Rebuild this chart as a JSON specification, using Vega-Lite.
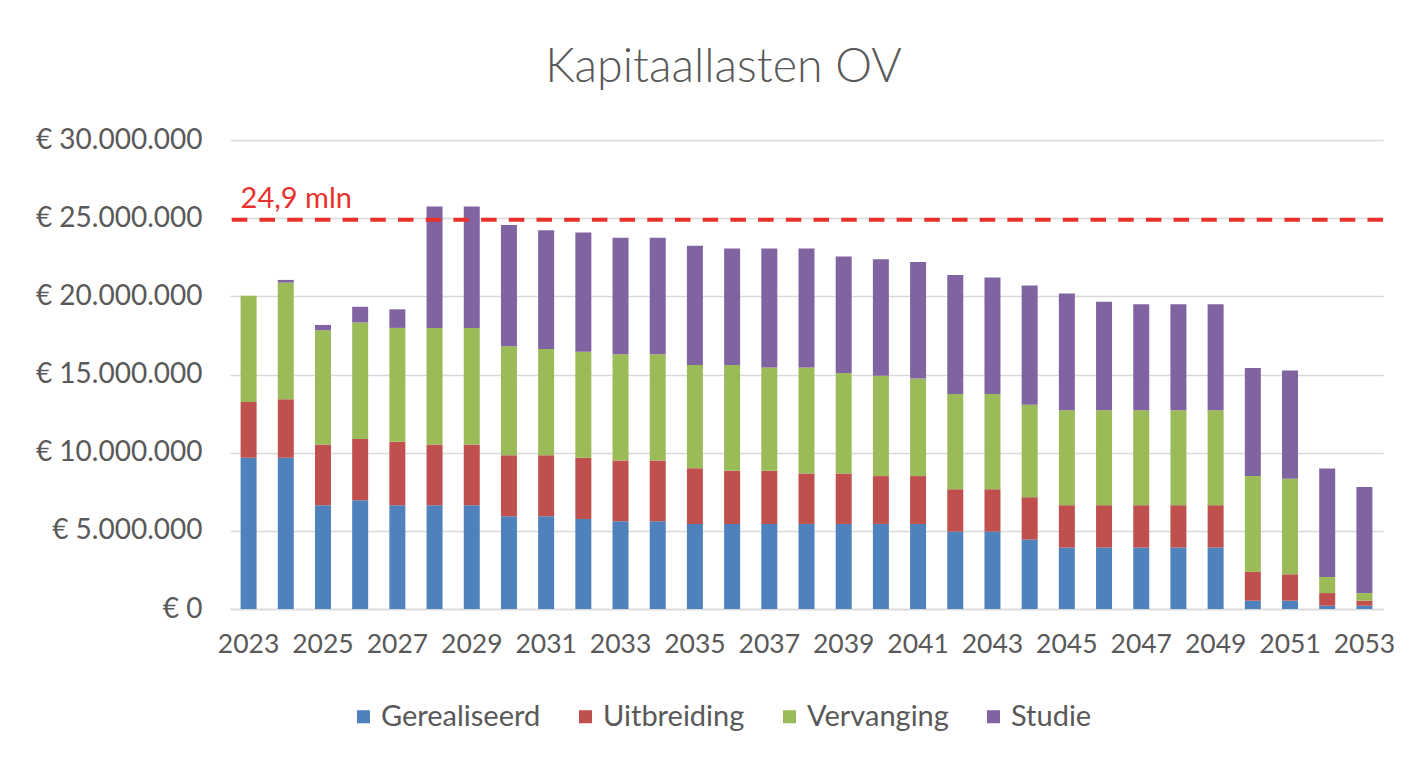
{
  "$schema": "https://vega.github.io/schema/vega-lite/v6.json",
  "width": 1153,
  "height": 469,
  "autosize": {"type": "none"},
  "padding": {"left": 230, "top": 140, "right": 38, "bottom": 158},
  "background": "white",
  "config": {
    "view": {"stroke": null},
    "font": "Lato"
  },
  "title": {
    "text": "Kapitaallasten OV",
    "font": "Lato",
    "fontSize": 46.5,
    "fontWeight": 300,
    "color": "#595959",
    "anchor": "middle",
    "dx": -83,
    "offset": 35
  },
  "datasets": {
    "bars": [
      {"year": 2023, "category": "Gerealiseerd", "value": 9670000},
      {"year": 2023, "category": "Uitbreiding", "value": 3570000},
      {"year": 2023, "category": "Vervanging", "value": 6790000},
      {"year": 2023, "category": "Studie", "value": 0},
      {"year": 2024, "category": "Gerealiseerd", "value": 9670000},
      {"year": 2024, "category": "Uitbreiding", "value": 3740000},
      {"year": 2024, "category": "Vervanging", "value": 7470000},
      {"year": 2024, "category": "Studie", "value": 170000},
      {"year": 2025, "category": "Gerealiseerd", "value": 6640000},
      {"year": 2025, "category": "Uitbreiding", "value": 3890000},
      {"year": 2025, "category": "Vervanging", "value": 7300000},
      {"year": 2025, "category": "Studie", "value": 340000},
      {"year": 2026, "category": "Gerealiseerd", "value": 6960000},
      {"year": 2026, "category": "Uitbreiding", "value": 3910000},
      {"year": 2026, "category": "Vervanging", "value": 7450000},
      {"year": 2026, "category": "Studie", "value": 1020000},
      {"year": 2027, "category": "Gerealiseerd", "value": 6640000},
      {"year": 2027, "category": "Uitbreiding", "value": 4060000},
      {"year": 2027, "category": "Vervanging", "value": 7280000},
      {"year": 2027, "category": "Studie", "value": 1190000},
      {"year": 2028, "category": "Gerealiseerd", "value": 6640000},
      {"year": 2028, "category": "Uitbreiding", "value": 3890000},
      {"year": 2028, "category": "Vervanging", "value": 7450000},
      {"year": 2028, "category": "Studie", "value": 7770000},
      {"year": 2029, "category": "Gerealiseerd", "value": 6640000},
      {"year": 2029, "category": "Uitbreiding", "value": 3890000},
      {"year": 2029, "category": "Vervanging", "value": 7450000},
      {"year": 2029, "category": "Studie", "value": 7770000},
      {"year": 2030, "category": "Gerealiseerd", "value": 5940000},
      {"year": 2030, "category": "Uitbreiding", "value": 3900000},
      {"year": 2030, "category": "Vervanging", "value": 6960000},
      {"year": 2030, "category": "Studie", "value": 7770000},
      {"year": 2031, "category": "Gerealiseerd", "value": 5940000},
      {"year": 2031, "category": "Uitbreiding", "value": 3900000},
      {"year": 2031, "category": "Vervanging", "value": 6790000},
      {"year": 2031, "category": "Studie", "value": 7600000},
      {"year": 2032, "category": "Gerealiseerd", "value": 5760000},
      {"year": 2032, "category": "Uitbreiding", "value": 3910000},
      {"year": 2032, "category": "Vervanging", "value": 6790000},
      {"year": 2032, "category": "Studie", "value": 7620000},
      {"year": 2033, "category": "Gerealiseerd", "value": 5610000},
      {"year": 2033, "category": "Uitbreiding", "value": 3890000},
      {"year": 2033, "category": "Vervanging", "value": 6790000},
      {"year": 2033, "category": "Studie", "value": 7450000},
      {"year": 2034, "category": "Gerealiseerd", "value": 5610000},
      {"year": 2034, "category": "Uitbreiding", "value": 3890000},
      {"year": 2034, "category": "Vervanging", "value": 6790000},
      {"year": 2034, "category": "Studie", "value": 7450000},
      {"year": 2035, "category": "Gerealiseerd", "value": 5440000},
      {"year": 2035, "category": "Uitbreiding", "value": 3570000},
      {"year": 2035, "category": "Vervanging", "value": 6600000},
      {"year": 2035, "category": "Studie", "value": 7620000},
      {"year": 2036, "category": "Gerealiseerd", "value": 5440000},
      {"year": 2036, "category": "Uitbreiding", "value": 3400000},
      {"year": 2036, "category": "Vervanging", "value": 6770000},
      {"year": 2036, "category": "Studie", "value": 7450000},
      {"year": 2037, "category": "Gerealiseerd", "value": 5440000},
      {"year": 2037, "category": "Uitbreiding", "value": 3400000},
      {"year": 2037, "category": "Vervanging", "value": 6600000},
      {"year": 2037, "category": "Studie", "value": 7620000},
      {"year": 2038, "category": "Gerealiseerd", "value": 5440000},
      {"year": 2038, "category": "Uitbreiding", "value": 3230000},
      {"year": 2038, "category": "Vervanging", "value": 6770000},
      {"year": 2038, "category": "Studie", "value": 7620000},
      {"year": 2039, "category": "Gerealiseerd", "value": 5440000},
      {"year": 2039, "category": "Uitbreiding", "value": 3230000},
      {"year": 2039, "category": "Vervanging", "value": 6420000},
      {"year": 2039, "category": "Studie", "value": 7450000},
      {"year": 2040, "category": "Gerealiseerd", "value": 5440000},
      {"year": 2040, "category": "Uitbreiding", "value": 3060000},
      {"year": 2040, "category": "Vervanging", "value": 6420000},
      {"year": 2040, "category": "Studie", "value": 7450000},
      {"year": 2041, "category": "Gerealiseerd", "value": 5440000},
      {"year": 2041, "category": "Uitbreiding", "value": 3060000},
      {"year": 2041, "category": "Vervanging", "value": 6250000},
      {"year": 2041, "category": "Studie", "value": 7450000},
      {"year": 2042, "category": "Gerealiseerd", "value": 4950000},
      {"year": 2042, "category": "Uitbreiding", "value": 2710000},
      {"year": 2042, "category": "Vervanging", "value": 6090000},
      {"year": 2042, "category": "Studie", "value": 7620000},
      {"year": 2043, "category": "Gerealiseerd", "value": 4950000},
      {"year": 2043, "category": "Uitbreiding", "value": 2710000},
      {"year": 2043, "category": "Vervanging", "value": 6090000},
      {"year": 2043, "category": "Studie", "value": 7450000},
      {"year": 2044, "category": "Gerealiseerd", "value": 4440000},
      {"year": 2044, "category": "Uitbreiding", "value": 2710000},
      {"year": 2044, "category": "Vervanging", "value": 5920000},
      {"year": 2044, "category": "Studie", "value": 7620000},
      {"year": 2045, "category": "Gerealiseerd", "value": 3930000},
      {"year": 2045, "category": "Uitbreiding", "value": 2710000},
      {"year": 2045, "category": "Vervanging", "value": 6080000},
      {"year": 2045, "category": "Studie", "value": 7460000},
      {"year": 2046, "category": "Gerealiseerd", "value": 3930000},
      {"year": 2046, "category": "Uitbreiding", "value": 2710000},
      {"year": 2046, "category": "Vervanging", "value": 6080000},
      {"year": 2046, "category": "Studie", "value": 6940000},
      {"year": 2047, "category": "Gerealiseerd", "value": 3930000},
      {"year": 2047, "category": "Uitbreiding", "value": 2710000},
      {"year": 2047, "category": "Vervanging", "value": 6080000},
      {"year": 2047, "category": "Studie", "value": 6770000},
      {"year": 2048, "category": "Gerealiseerd", "value": 3930000},
      {"year": 2048, "category": "Uitbreiding", "value": 2710000},
      {"year": 2048, "category": "Vervanging", "value": 6080000},
      {"year": 2048, "category": "Studie", "value": 6770000},
      {"year": 2049, "category": "Gerealiseerd", "value": 3930000},
      {"year": 2049, "category": "Uitbreiding", "value": 2710000},
      {"year": 2049, "category": "Vervanging", "value": 6080000},
      {"year": 2049, "category": "Studie", "value": 6770000},
      {"year": 2050, "category": "Gerealiseerd", "value": 530000},
      {"year": 2050, "category": "Uitbreiding", "value": 1860000},
      {"year": 2050, "category": "Vervanging", "value": 6110000},
      {"year": 2050, "category": "Studie", "value": 6910000},
      {"year": 2051, "category": "Gerealiseerd", "value": 530000},
      {"year": 2051, "category": "Uitbreiding", "value": 1690000},
      {"year": 2051, "category": "Vervanging", "value": 6110000},
      {"year": 2051, "category": "Studie", "value": 6930000},
      {"year": 2052, "category": "Gerealiseerd", "value": 210000},
      {"year": 2052, "category": "Uitbreiding", "value": 810000},
      {"year": 2052, "category": "Vervanging", "value": 1030000},
      {"year": 2052, "category": "Studie", "value": 6940000},
      {"year": 2053, "category": "Gerealiseerd", "value": 210000},
      {"year": 2053, "category": "Uitbreiding", "value": 320000},
      {"year": 2053, "category": "Vervanging", "value": 490000},
      {"year": 2053, "category": "Studie", "value": 6790000}
    ],
    "ref": [
      {"year": 2023, "label": "24,9 mln", "value": 24900000}
    ]
  },
  "layer": [
    {
      "data": {"name": "bars"},
      "transform": [
        {"calculate": "indexof(['Gerealiseerd', 'Uitbreiding', 'Vervanging', 'Studie'], datum.category)", "as": "stackOrder"}
      ],
      "mark": {"type": "bar"},
      "encoding": {
        "x": {
          "field": "year",
          "type": "ordinal",
          "scale": {"paddingInner": 0.57, "paddingOuter": 0.285},
          "axis": {
            "title": null,
            "labelAngle": 0,
            "values": [2023, 2025, 2027, 2029, 2031, 2033, 2035, 2037, 2039, 2041, 2043, 2045, 2047, 2049, 2051, 2053],
            "labelFont": "Lato",
            "labelFontSize": 26.5,
            "labelColor": "#595959",
            "labelPadding": 22,
            "ticks": false,
            "domainColor": "#d9d9d9",
            "domainWidth": 1.5
          }
        },
        "y": {
          "field": "value",
          "type": "quantitative",
          "aggregate": "sum",
          "stack": "zero",
          "scale": {"domain": [0, 30000000], "nice": false},
          "axis": {
            "title": null,
            "values": [0, 5000000, 10000000, 15000000, 20000000, 25000000, 30000000],
            "labelExpr": "'€ ' + replace(format(datum.value, ','), regexp(',', 'g'), '.')",
            "labelFont": "Lato",
            "labelFontSize": 28,
            "labelColor": "#595959",
            "labelPadding": 28,
            "ticks": false,
            "domain": false,
            "grid": true,
            "gridColor": "#d9d9d9",
            "gridWidth": 1.5
          }
        },
        "order": {"field": "stackOrder", "type": "quantitative", "sort": "ascending"},
        "color": {
          "field": "category",
          "type": "nominal",
          "sort": ["Gerealiseerd", "Uitbreiding", "Vervanging", "Studie"],
          "scale": {
            "domain": ["Gerealiseerd", "Uitbreiding", "Vervanging", "Studie"],
            "range": ["#4f81bd", "#c0504d", "#9bbb59", "#8064a2"]
          },
          "legend": {
            "title": null,
            "orient": "none",
            "direction": "horizontal",
            "legendX": 119,
            "legendY": 562,
            "symbolType": "square",
            "symbolSize": 170,
            "labelFont": "Lato",
            "labelFontSize": 29,
            "labelColor": "#595959",
            "labelOffset": 3,
            "columnPadding": 30
          }
        }
      }
    },
    {
      "data": {"name": "ref"},
      "mark": {"type": "rule", "color": "#e8312b", "strokeWidth": 4, "strokeDash": [15.5, 12.2]},
      "encoding": {
        "y": {"field": "value", "type": "quantitative"}
      }
    },
    {
      "data": {"name": "ref"},
      "mark": {"type": "text", "color": "#e8312b", "font": "Lato", "fontSize": 29, "align": "left", "baseline": "alphabetic", "dy": -12},
      "encoding": {
        "x": {"field": "year", "type": "ordinal", "bandPosition": 0},
        "y": {"field": "value", "type": "quantitative"},
        "text": {"field": "label"}
      }
    }
  ]
}
